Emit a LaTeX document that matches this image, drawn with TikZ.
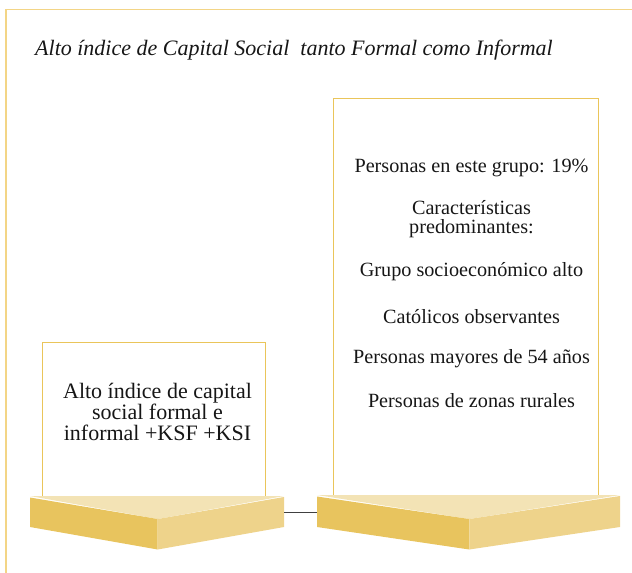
\documentclass[tikz,border=0pt]{standalone}
\usepackage{fontspec}
\setmainfont{Liberation Serif}
\definecolor{frameC}{HTML}{F3D586}
\definecolor{boxC}{HTML}{EAC55A}
\definecolor{faceL}{HTML}{E8C45E}
\definecolor{faceR}{HTML}{EED38B}
\definecolor{faceT}{HTML}{F3E3B5}
\definecolor{txt}{HTML}{161616}
\begin{document}
\begin{tikzpicture}[x=1pt,y=-1pt,
  infobox/.style={draw=boxC,line width=0.9pt},
  bodytext/.style={text=txt,font=\fontsize{20.2}{19.5}\selectfont,align=center,inner sep=0pt},
  lefttext/.style={text=txt,font=\fontsize{22}{21}\selectfont,align=center,inner sep=0pt}]
\useasboundingbox (0,0) rectangle (632,573);
% outer frame
\draw[frameC,line width=1.4pt] (6,573) -- (6,9.5) -- (632,9.5);
\node[anchor=base west,inner sep=0pt,text=txt,font=\fontsize{22}{22}\selectfont\itshape] (title) at (35,55) {Alto índice de Capital Social\ \ tanto Formal como Informal};
% boxes
\draw[infobox] (42.7,496) -- (42.7,342.3) -- (265.7,342.3) -- (265.7,496);
\draw[infobox] (333.5,495) -- (333.5,98.3) -- (598,98.3) -- (598,495);
\node[lefttext] (lt) at (157.5,412) {Alto índice de capital\\social formal e\\informal +KSF +KSI};
% right texts
\node[bodytext] (r1) at (471.5,168) {Personas en este grupo: 19\%};
\node[bodytext] (r2) at (471.5,219) {Características\\predominantes:};
\node[bodytext] (r3) at (471.5,272) {Grupo socioeconómico alto};
\node[bodytext] (r4) at (471.5,317) {Católicos observantes};
\node[bodytext] (r5) at (471.5,359) {Personas mayores de 54 años};
\node[bodytext] (r6) at (471.5,401) {Personas de zonas rurales};
% chevrons
\coordinate (cl) at (284,512.7);
\coordinate (cr) at (317,512.7);
\fill[faceT] (30,496) -- (284,496) -- (157.7,519) -- cycle;
\fill[faceL] (30,497.5) -- (157.7,519) -- (157.7,549.5) -- (30,527) -- cycle;
\fill[faceR] (157.7,519) -- (284,497) -- (284,527) -- (157.7,549.5) -- cycle;
\fill[faceT] (317,495) -- (620,495) -- (469.3,519) -- cycle;
\fill[faceL] (317,496.5) -- (469.3,519) -- (469.3,549.5) -- (317,527) -- cycle;
\fill[faceR] (469.3,519) -- (620,496) -- (620,527) -- (469.3,549.5) -- cycle;
\draw[line width=0.9pt,black!75] (cl) -- (cr);
\end{tikzpicture}
\end{document}
